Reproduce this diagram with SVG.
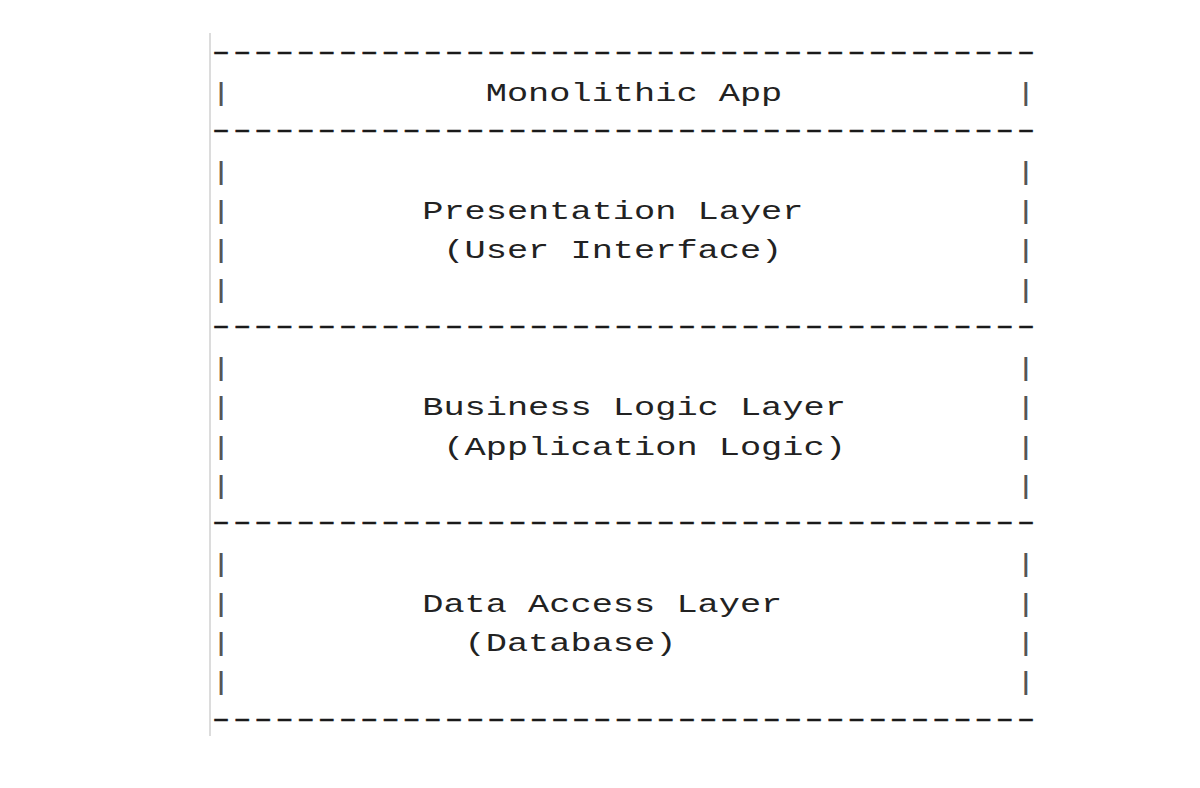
<svg xmlns="http://www.w3.org/2000/svg" width="1200" height="788" viewBox="0 0 1200 788">
<style>
  .t { font-family: "Liberation Mono", "Courier New", monospace; font-size: 26px; fill: #222; white-space: pre; }
  .p { font-family: "Liberation Mono", "Courier New", monospace; font-size: 26px; fill: #555; }
  .d { font-family: "Liberation Mono", "Courier New", monospace; font-size: 26px; fill: #1a1a1a; stroke: #1a1a1a; stroke-width: 0.35; letter-spacing: -4.04px; }
</style>
<rect width="1200" height="788" fill="#ffffff"/>
<line x1="210" y1="33" x2="210" y2="736" stroke="#dcdcdc" stroke-width="2"/>
<g transform="translate(210.4,0) scale(1.3577,1)">
  <g id="separators" transform="translate(-2.73,0) scale(1.35,1)">
    <text class="d" x="0" y="59.6">---------------------------------------</text>
    <text class="d" x="0" y="138.1">---------------------------------------</text>
    <text class="d" x="0" y="334.3">---------------------------------------</text>
    <text class="d" x="0" y="530.5">---------------------------------------</text>
    <text class="d" x="0" y="726.7">---------------------------------------</text>
  </g>
  <g id="monolithic-app">
    <text class="p" x="0" y="101.5">|</text>
    <text class="t" x="202.8" y="101.5">Monolithic App</text>
    <text class="p" x="592.8" y="101.5">|</text>
  </g>
  <g id="presentation-layer">
    <text class="p" x="0" y="180.0">|</text><text class="p" x="592.8" y="180.0">|</text>
    <text class="p" x="0" y="219.3">|</text><text class="p" x="592.8" y="219.3">|</text>
    <text class="p" x="0" y="258.5">|</text><text class="p" x="592.8" y="258.5">|</text>
    <text class="p" x="0" y="297.7">|</text><text class="p" x="592.8" y="297.7">|</text>
    <text class="t" x="156" y="219.3">Presentation Layer</text>
    <text class="t" x="171.6" y="258.5">(User Interface)</text>
  </g>
  <g id="business-logic-layer">
    <text class="p" x="0" y="376.2">|</text><text class="p" x="592.8" y="376.2">|</text>
    <text class="p" x="0" y="415.5">|</text><text class="p" x="592.8" y="415.5">|</text>
    <text class="p" x="0" y="454.7">|</text><text class="p" x="592.8" y="454.7">|</text>
    <text class="p" x="0" y="493.9">|</text><text class="p" x="592.8" y="493.9">|</text>
    <text class="t" x="156" y="415.5">Business Logic Layer</text>
    <text class="t" x="171.6" y="454.7">(Application Logic)</text>
  </g>
  <g id="data-access-layer">
    <text class="p" x="0" y="572.4">|</text><text class="p" x="592.8" y="572.4">|</text>
    <text class="p" x="0" y="611.7">|</text><text class="p" x="592.8" y="611.7">|</text>
    <text class="p" x="0" y="650.9">|</text><text class="p" x="592.8" y="650.9">|</text>
    <text class="p" x="0" y="690.1">|</text><text class="p" x="592.8" y="690.1">|</text>
    <text class="t" x="156" y="611.7">Data Access Layer</text>
    <text class="t" x="187.2" y="650.9">(Database)</text>
  </g>
</g>
</svg>
